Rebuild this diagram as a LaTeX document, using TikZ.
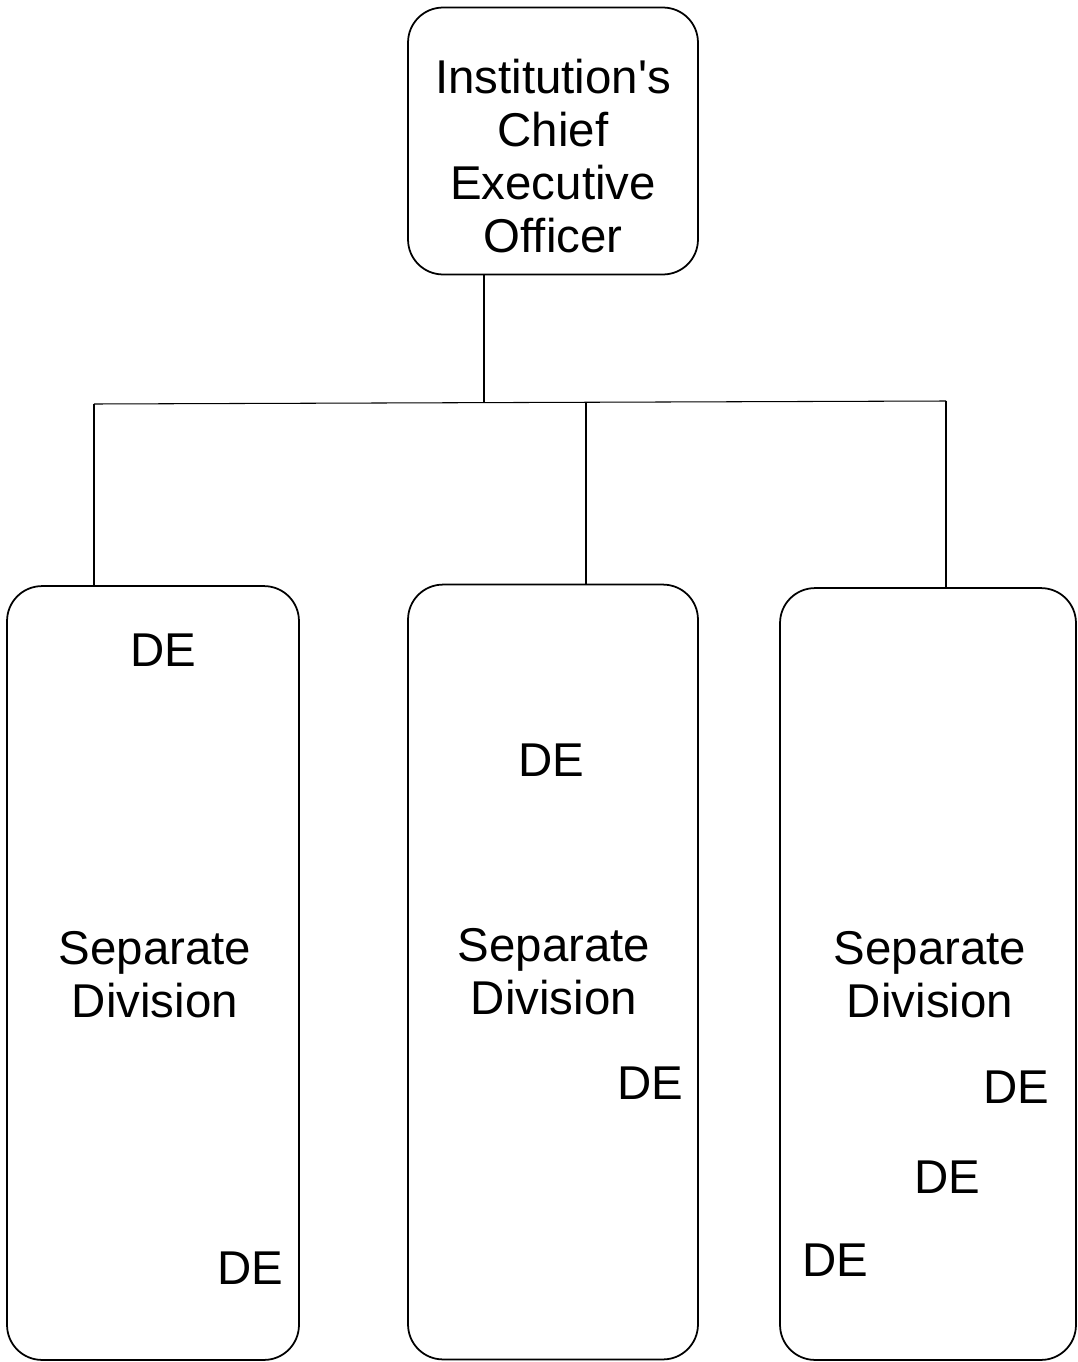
\documentclass[tikz,border=0pt]{standalone}
\usepackage{fontspec}
\setmainfont{Liberation Sans}
\usetikzlibrary{positioning}

\begin{document}
\begin{tikzpicture}[
    x=0.02cm, y=-0.02cm,
    box/.style={rectangle, draw, line width=1pt, rounded corners=0.7cm},
    label/.style={font=\fontsize{27}{30.3}\selectfont, align=center, inner sep=0pt},
    line/.style={line width=0.6pt}
]
    \useasboundingbox (0,0) rectangle (1078,1362);

    % boxes
    \node[box, minimum width=5.8cm, minimum height=5.34cm] (ceo) at (553,141) {};
    \node[box, minimum width=5.84cm, minimum height=15.48cm] (div1) at (153,973) {};
    \node[box, minimum width=5.8cm, minimum height=15.5cm] (div2) at (553,972) {};
    \node[box, minimum width=5.92cm, minimum height=15.44cm] (div3) at (928,974) {};

    % texts
    \node[label] (ceotext) at (553,156) {Institution\textquotesingle s\\Chief\\Executive\\Officer};
    \node[label] (sep1) at (155,975) {Separate\\Division};
    \node[label] (sep2) at (554,972) {Separate\\Division};
    \node[label] (sep3) at (930,975) {Separate\\Division};

    \node[label] (de1) at (163,650) {DE};
    \node[label] (de2) at (250,1268) {DE};
    \node[label] (de3) at (551,760) {DE};
    \node[label] (de4) at (650,1083) {DE};
    \node[label] (de5) at (1016,1087) {DE};
    \node[label] (de6) at (947,1177) {DE};
    \node[label] (de7) at (835,1260) {DE};

    % connectors
    \coordinate (hub) at (484,402);
    \coordinate (hubl) at (94,404);
    \coordinate (hubm) at (586,402);
    \coordinate (hubr) at (946,401);

    \draw[line] (ceo.south -| hub) -- (hub);
    \draw[line] (hubl) -- (hubr);
    \draw[line] (hubl) -- (div1.north -| hubl);
    \draw[line] (hubm) -- (div2.north -| hubm);
    \draw[line] (hubr) -- (div3.north -| hubr);
\end{tikzpicture}
\end{document}
